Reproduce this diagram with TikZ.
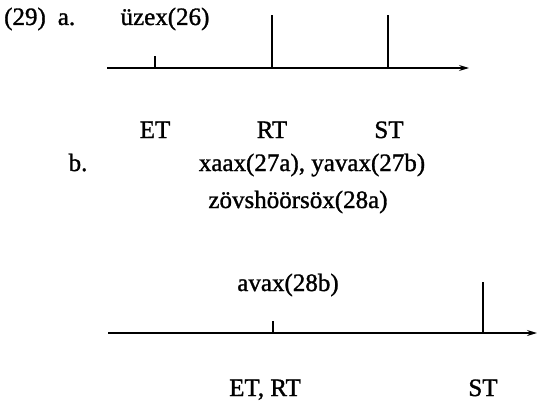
\documentclass[tikz,border=0pt]{standalone}
\usepackage{fontspec}
\setmainfont{Liberation Serif}[FakeBold=1.2]
\usetikzlibrary{arrows.meta}
\tikzset{
  lbl/.style={inner sep=0pt, anchor=base, font=\fontsize{25}{27}\selectfont},
  axis/.style={line width=1.3pt, -{Stealth[length=10pt,width=6pt]}},
  tick/.style={line width=1.3pt}
}
\begin{document}
\begin{tikzpicture}[x=1pt,y=-1pt]
\useasboundingbox (0,0) rectangle (537,401);
% part a
\node[lbl, anchor=base west] (num) at (4,25) {(29)\hspace{12pt}a.};
\node[lbl] (uzex) at (165,25) {üzex(26)};
\coordinate (a0) at (107,68);
\coordinate (a1) at (469,68);
\coordinate (aET) at (155,68);
\coordinate (aETt) at (155,56);
\coordinate (aRT) at (272,68);
\coordinate (aRTt) at (272,15);
\coordinate (aST) at (388,68);
\coordinate (aSTt) at (388,15);
\draw[axis] (a0) -- (a1);
\draw[tick] (aET) -- (aETt);
\draw[tick] (aRT) -- (aRTt);
\draw[tick] (aST) -- (aSTt);
\node[lbl] (lET) at (155,138) {ET};
\node[lbl] (lRT) at (272,138) {RT};
\node[lbl] (lST) at (389,138) {ST};
% part b
\node[lbl] (b) at (78,171) {b.};
\node[lbl] (xaax) at (312,171) {xaax(27a), yavax(27b)};
\node[lbl] (zov) at (298,208) {zövshöörsöx(28a)};
\node[lbl] (avax) at (288,291) {avax(28b)};
\coordinate (b0) at (108,333);
\coordinate (b1) at (537,333);
\coordinate (bER) at (273,333);
\coordinate (bERt) at (273,321);
\coordinate (bST) at (483,333);
\coordinate (bSTt) at (483,282);
\draw[axis] (b0) -- (b1);
\draw[tick] (bER) -- (bERt);
\draw[tick] (bST) -- (bSTt);
\node[lbl] (lER) at (265,396) {ET, RT};
\node[lbl] (lST2) at (483,396) {ST};
\end{tikzpicture}
\end{document}
